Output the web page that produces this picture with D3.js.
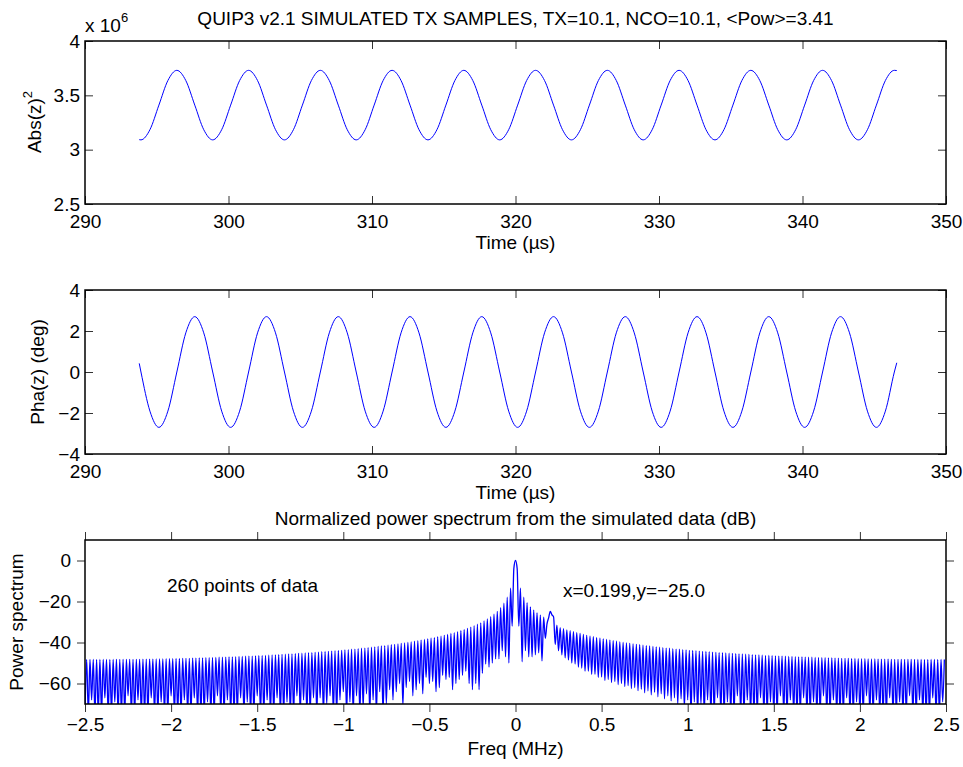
<!DOCTYPE html>
<html>
<head>
<meta charset="utf-8">
<title>QUIP3 TX samples</title>
<script src="https://d3js.org/d3.v7.min.js"></script>
<style>
  body { margin: 0; background: #fff; }
  svg text { font-family: "Liberation Sans", Arial, Helvetica, sans-serif; font-size: 19px; fill: #000; }
</style>
</head>
<body>
<div id="fig"></div>
<script>
// ---- values ----
// time samples (us) shared by the two upper panels
var sampleTimes = [293.78,
  293.9, 294.525, 295.15, 295.775, 296.4, 297.025, 297.65, 298.275,
  298.9, 299.525, 300.15, 300.775, 301.4, 302.025, 302.65, 303.275,
  303.9, 304.525, 305.15, 305.775, 306.4, 307.025, 307.65, 308.275,
  308.9, 309.525, 310.15, 310.775, 311.4, 312.025, 312.65, 313.275,
  313.9, 314.525, 315.15, 315.775, 316.4, 317.025, 317.65, 318.275,
  318.9, 319.525, 320.15, 320.775, 321.4, 322.025, 322.65, 323.275,
  323.9, 324.525, 325.15, 325.775, 326.4, 327.025, 327.65, 328.275,
  328.9, 329.525, 330.15, 330.775, 331.4, 332.025, 332.65, 333.275,
  333.9, 334.525, 335.15, 335.775, 336.4, 337.025, 337.65, 338.275,
  338.9, 339.525, 340.15, 340.775, 341.4, 342.025, 342.65, 343.275,
  343.9, 344.525, 345.15, 345.775, 346.4,
  346.57];
// |z|^2 in units of 1e6
var absValues = [3.092,
  3.09, 3.184, 3.41, 3.636, 3.73, 3.636, 3.41, 3.184,
  3.09, 3.184, 3.41, 3.636, 3.73, 3.636, 3.41, 3.184,
  3.09, 3.184, 3.41, 3.636, 3.73, 3.636, 3.41, 3.184,
  3.09, 3.184, 3.41, 3.636, 3.73, 3.636, 3.41, 3.184,
  3.09, 3.184, 3.41, 3.636, 3.73, 3.636, 3.41, 3.184,
  3.09, 3.184, 3.41, 3.636, 3.73, 3.636, 3.41, 3.184,
  3.09, 3.184, 3.41, 3.636, 3.73, 3.636, 3.41, 3.184,
  3.09, 3.184, 3.41, 3.636, 3.73, 3.636, 3.41, 3.184,
  3.09, 3.184, 3.41, 3.636, 3.73, 3.636, 3.41, 3.184,
  3.09, 3.184, 3.41, 3.636, 3.73, 3.636, 3.41, 3.184,
  3.09, 3.184, 3.41, 3.636, 3.73,
  3.728];
// phase in degrees
var phaValues = [0.42,
  0, -1.91, -2.7, -1.91, 0, 1.91, 2.7, 1.91,
  0, -1.91, -2.7, -1.91, 0, 1.91, 2.7, 1.91,
  0, -1.91, -2.7, -1.91, 0, 1.91, 2.7, 1.91,
  0, -1.91, -2.7, -1.91, 0, 1.91, 2.7, 1.91,
  0, -1.91, -2.7, -1.91, 0, 1.91, 2.7, 1.91,
  0, -1.91, -2.7, -1.91, 0, 1.91, 2.7, 1.91,
  0, -1.91, -2.7, -1.91, 0, 1.91, 2.7, 1.91,
  0, -1.91, -2.7, -1.91, 0, 1.91, 2.7, 1.91,
  0, -1.91, -2.7, -1.91, 0, 1.91, 2.7, 1.91,
  0, -1.91, -2.7, -1.91, 0, 1.91, 2.7, 1.91,
  0, -1.91, -2.7, -1.91, 0,
  0.45];

var timeTicks = [290, 300, 310, 320, 330, 340, 350];
var absTicks = [2.5, 3, 3.5, 4];
var phaTicks = [-4, -2, 0, 2, 4];
var freqTicks = [-2.5, -2, -1.5, -1, -0.5, 0, 0.5, 1, 1.5, 2, 2.5];
var powTicks = [-60, -40, -20, 0];

// spectrum (dB): lobe tops on the odd half-bins, -2.49 .. 2.49 MHz
var lobeLevels = [
  -48.3,-48.3,-48.3,-48.3,-48.3,-48.3,-48.3,-48.3,-48.3,-48.2,
  -48.2,-48.2,-48.2,-48.2,-48.2,-48.2,-48.2,-48.1,-48.1,-48.1,
  -48.1,-48.0,-48.0,-48.0,-47.9,-47.9,-47.9,-47.8,-47.8,-47.7,
  -47.7,-47.7,-47.6,-47.6,-47.5,-47.5,-47.4,-47.4,-47.3,-47.3,
  -47.2,-47.2,-47.1,-47.0,-47.0,-46.9,-46.8,-46.8,-46.7,-46.6,
  -46.6,-46.5,-46.4,-46.3,-46.3,-46.2,-46.1,-46.0,-45.9,-45.8,
  -45.7,-45.6,-45.5,-45.4,-45.3,-45.2,-45.1,-45.0,-44.9,-44.8,
  -44.7,-44.5,-44.4,-44.3,-44.2,-44.0,-43.9,-43.8,-43.6,-43.5,
  -43.3,-43.2,-43.0,-42.8,-42.7,-42.5,-42.3,-42.1,-41.9,-41.7,
  -41.5,-41.3,-41.1,-40.9,-40.7,-40.4,-40.2,-40.0,-39.7,-39.4,
  -39.1,-38.8,-38.5,-38.2,-37.9,-37.6,-37.2,-36.9,-36.5,-36.1,
  -35.6,-35.2,-34.7,-34.2,-33.7,-33.1,-32.5,-31.8,-31.1,-30.4,
  -29.5,-28.5,-27.4,-26.2,-24.8,-23.0,-20.8,-17.9,-13.5,-3.9,
  -3.9,-13.5,-17.9,-20.6,-22.6,-24.2,-25.5,-26.6,-27.6,-31.0,
  -24.8,-27.5,-31.5,-32.8,-33.2,-33.8,-34.2,-34.7,-35.2,-35.6,
  -36.1,-36.5,-36.9,-37.2,-37.6,-37.9,-38.2,-38.5,-38.8,-39.1,
  -39.4,-39.7,-40.0,-40.2,-40.4,-40.7,-40.9,-41.1,-41.3,-41.5,
  -41.7,-41.9,-42.1,-42.3,-42.5,-42.7,-42.8,-43.0,-43.2,-43.3,
  -43.5,-43.6,-43.8,-43.9,-44.0,-44.2,-44.3,-44.4,-44.5,-44.7,
  -44.8,-44.9,-45.0,-45.1,-45.2,-45.3,-45.4,-45.5,-45.6,-45.7,
  -45.8,-45.9,-46.0,-46.1,-46.2,-46.3,-46.3,-46.4,-46.5,-46.6,
  -46.6,-46.7,-46.8,-46.8,-46.9,-47.0,-47.0,-47.1,-47.2,-47.2,
  -47.3,-47.3,-47.4,-47.4,-47.5,-47.5,-47.6,-47.6,-47.7,-47.7,
  -47.7,-47.8,-47.8,-47.9,-47.9,-47.9,-48.0,-48.0,-48.0,-48.1,
  -48.1,-48.1,-48.1,-48.2,-48.2,-48.2,-48.2,-48.2,-48.2,-48.2,
  -48.2,-48.3,-48.3,-48.3,-48.3,-48.3,-48.3,-48.3,-48.3,-48.3];
// spectrum (dB): values on the FFT bins (even half-bins), -2.5 .. 2.48 MHz
var binLevels = [
  -75,-75,-68,-75,-75,-75,-67,-75,-75,-69,
  -75,-75,-75,-66,-75,-75,-68,-75,-75,-75,
  -67,-75,-75,-69,-75,-75,-66,-75,-75,-75,
  -68,-75,-75,-67,-75,-75,-75,-69,-75,-75,
  -66,-75,-75,-68,-75,-75,-75,-67,-75,-69,
  -75,-75,-66,-75,-75,-68,-75,-75,-67,-75,
  -75,-69,-75,-75,-66,-75,-68,-75,-75,-67,
  -75,-67,-75,-70,-66,-75,-75,-68,-64,-75,
  -69,-75,-66,-75,-72,-65,-75,-68,-75,-64,
  -75,-70,-63,-68,-64,-60,-71,-62,-59,-66,
  -63,-60,-65,-57,-60,-59,-64,-62,-56,-58,
  -57,-63,-60,-58,-56,-54,-60,-63,-60,-63,
  -55,-50.5,-52,-50,-48,-48,-44,-47,-50,-32,
  0,-32,-49.4,-44,-47,-47,-46,-45,-49,-38,
  -28,-26.5,-41,-44,-46,-47.5,-48.5,-50,-50.5,-52,
  -52.5,-54,-54,-55.5,-55.5,-57,-56.8,-58.5,-58,-59.5,
  -59,-60.5,-60,-61.5,-61,-62.5,-62,-63.5,-62.8,-64.5,
  -63.6,-65.5,-64.3,-66.5,-65,-67.5,-66,-68.5,-67,-70,
  -67.5,-72,-68,-75,-69,-75,-70,-75,-68,-75,
  -75,-67,-75,-75,-69,-75,-75,-66,-75,-75,
  -68,-75,-75,-75,-67,-75,-75,-69,-75,-75,
  -66,-75,-75,-68,-75,-75,-75,-67,-75,-75,
  -69,-75,-75,-66,-75,-75,-68,-75,-75,-75,
  -67,-75,-75,-69,-75,-75,-66,-75,-75,-68,
  -75,-75,-75,-67,-75,-75,-69,-75,-75,-66,
  -75,-75,-68,-75,-75,-75,-67,-75,-75,-69];
var specStep = 2.5 / 260;   // MHz per half-bin (260 samples, 2x zero padded)

var width = 963, height = 767;
var margin = {left: 85, right: 17};

var svg = d3.select("#fig")
    .append("svg")
    .attr("width", width)
    .attr("height", height);

var x = d3.scaleLinear().domain([290, 350]).range([margin.left, width - margin.right]);
var xF = d3.scaleLinear().domain([-2.5, 2.5]).range([margin.left, width - margin.right]);
var yAbs = d3.scaleLinear().domain([2.5, 4]).range([204, 41]);
var yPha = d3.scaleLinear().domain([-4, 4]).range([454, 290]);
var yPow = d3.scaleLinear().domain([-70, 10]).range([704, 540]);

function fmt(d) { return String(d).replace("-", "\u2212"); }

// matlab style box with ticks on all four sides
function frame(xs, ys, xt, yt, tick, padX, padY) {
    var x0 = xs.range()[0], x1 = xs.range()[1];
    var y0 = ys.range()[0], y1 = ys.range()[1];
    var g = svg.append("g");
    g.append("g").attr("transform", "translate(0," + y0 + ")")
        .call(d3.axisBottom(xs).tickValues(xt).tickSize(tick).tickSizeOuter(0).tickPadding(padX).tickFormat(fmt));
    g.append("g").attr("transform", "translate(0," + y1 + ")")
        .call(d3.axisTop(xs).tickValues(xt).tickSize(tick).tickSizeOuter(0).tickFormat(""));
    g.append("g").attr("transform", "translate(" + x0 + ",0)")
        .call(d3.axisLeft(ys).tickValues(yt).tickSize(tick).tickSizeOuter(0).tickPadding(padY).tickFormat(fmt));
    g.append("g").attr("transform", "translate(" + x1 + ",0)")
        .call(d3.axisRight(ys).tickValues(yt).tickSize(tick).tickSizeOuter(0).tickFormat(""));
    g.selectAll(".domain").remove();
    g.selectAll("g").attr("font-size", null).attr("font-family", null);
    g.selectAll(".tick line").attr("stroke", "#333");
    g.append("rect")
        .attr("x", x0).attr("y", y1)
        .attr("width", x1 - x0).attr("height", y0 - y1)
        .attr("fill", "none").attr("stroke", "#000").attr("stroke-width", 1.5);
}

// ---- panel 1: Abs(z)^2 ----
var absLine = d3.line()
    .x(function(d, i) { return x(sampleTimes[i]); })
    .y(function(d) { return yAbs(d); })
    .curve(d3.curveMonotoneX);
svg.append("path").datum(absValues)
    .attr("d", absLine)
    .attr("fill", "none").attr("stroke", "#0000ff").attr("stroke-width", 1);
frame(x, yAbs, timeTicks, absTicks, -8, 11, 5);

svg.append("text").attr("x", 515.5).attr("y", 25).attr("text-anchor", "middle")
    .text("QUIP3 v2.1 SIMULATED TX SAMPLES, TX=10.1, NCO=10.1, <Pow>=3.41");
svg.append("text").attr("x", 515.5).attr("y", 249).attr("text-anchor", "middle").text("Time (\u00b5s)");
var ex = svg.append("text").attr("x", 85).attr("y", 32);
ex.append("tspan").text("x 10");
ex.append("tspan").attr("dy", -10).attr("font-size", "13px").text("6");
var yl = svg.append("text").attr("text-anchor", "middle")
    .attr("transform", "translate(41,122) rotate(-90)");
yl.append("tspan").text("Abs(z)");
yl.append("tspan").attr("dy", -9).attr("font-size", "13px").text("2");

// ---- panel 2: Pha(z) ----
var phaLine = d3.line()
    .x(function(d, i) { return x(sampleTimes[i]); })
    .y(function(d) { return yPha(d); })
    .curve(d3.curveMonotoneX);
svg.append("path").datum(phaValues)
    .attr("d", phaLine)
    .attr("fill", "none").attr("stroke", "#0000ff").attr("stroke-width", 1);
frame(x, yPha, timeTicks, phaTicks, -8, 11, 5);

svg.append("text").attr("x", 515.5).attr("y", 499).attr("text-anchor", "middle").text("Time (\u00b5s)");
svg.append("text").attr("text-anchor", "middle")
    .attr("transform", "translate(44,372) rotate(-90)").text("Pha(z) (deg)");

// ---- panel 3: power spectrum ----
var spectrum = d3.range(-260, 260).map(function(k) {
    return {
        f: k * specStep,
        db: (k % 2 === 0) ? binLevels[(k + 260) / 2] : lobeLevels[(k + 259) / 2]
    };
});

svg.append("clipPath").attr("id", "specClip")
    .append("rect")
    .attr("x", xF.range()[0]).attr("y", yPow.range()[1])
    .attr("width", xF.range()[1] - xF.range()[0])
    .attr("height", yPow.range()[0] - yPow.range()[1]);

var specLine = d3.line()
    .x(function(d) { return xF(d.f); })
    .y(function(d) { return yPow(d.db); })
    .curve(d3.curveMonotoneX);
svg.append("path").datum(spectrum)
    .attr("clip-path", "url(#specClip)")
    .attr("d", specLine)
    .attr("fill", "none").attr("stroke", "#0000ff").attr("stroke-width", 1.3);
frame(xF, yPow, freqTicks, powTicks, 8, 5.5, 6);

svg.append("text").attr("x", 515.5).attr("y", 525).attr("text-anchor", "middle")
    .text("Normalized power spectrum from the simulated data (dB)");
svg.append("text").attr("x", 515.5).attr("y", 755).attr("text-anchor", "middle").text("Freq (MHz)");
svg.append("text").attr("text-anchor", "middle")
    .attr("transform", "translate(23,622) rotate(-90)").text("Power spectrum");
svg.append("text").attr("x", 167).attr("y", 592).text("260 points of data");
svg.append("text").attr("x", 563).attr("y", 597).text("x=0.199,y=\u221225.0");
</script>
</body>
</html>
